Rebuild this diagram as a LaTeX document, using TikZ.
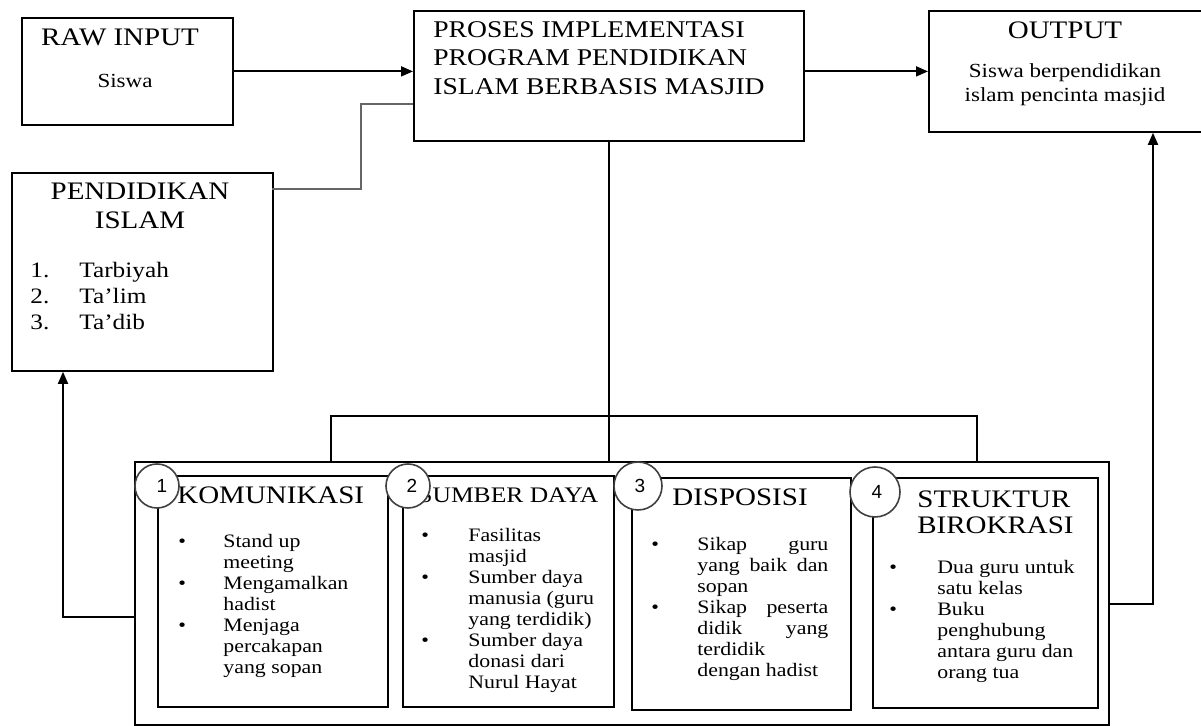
\documentclass[tikz,border=0pt]{standalone}
\usepackage{fontspec}
\setmainfont{Liberation Serif}[FakeStretch=1.15]
\newfontfamily\numfont{Liberation Sans}
\usetikzlibrary{arrows.meta}
\tikzset{
  boxframe/.style 2 args={draw, line width=0.9pt, anchor=north west, inner sep=0pt, minimum width=#1, minimum height=#2},
  heading/.style={inner sep=0pt, font=\fontsize{12.6}{14.5}\selectfont},
  plain/.style={inner sep=0pt, font=\fontsize{10}{12}\selectfont},
  itemtext/.style={inner sep=0pt, anchor=north west, font=\fontsize{9.5}{10.5}\selectfont},
  numcircle/.style={circle, draw=black!75, line width=0.8pt, fill=white, inner sep=0pt, minimum size=#1, font=\numfont\fontsize{9.5}{10}\selectfont},
  link/.style={line width=0.9pt},
  arrow/.style={link, -{Triangle[length=6pt,width=5pt]}},
}
\begin{document}
\begin{tikzpicture}[x=0.5pt,y=-0.5pt]
\useasboundingbox (0,0) rectangle (1201,726);
% top row
\node[boxframe={105.5pt}{53.5pt}] (raw) at (21,17) {};
\node[heading] (rawtitle) at (120,37) {RAW INPUT};
\node[plain] (rawtext) at (125,81) {Siswa};
\node[boxframe={195pt}{65pt}] (proc) at (413,10) {};
\node[heading, anchor=west, align=left, font=\fontsize{12}{14.25}\selectfont] (proctext) at (433,58) {PROSES IMPLEMENTASI\\PROGRAM PENDIDIKAN\\ISLAM BERBASIS MASJID};
\node[boxframe={141pt}{60.5pt}] (out) at (928,10) {};
\node[heading] (outtitle) at (1065,30) {OUTPUT};
\node[plain, align=center] (outtext) at (1065,85) {Siswa berpendidikan\\islam pencinta masjid};
% pendidikan islam
\node[boxframe={130.5pt}{99pt}] (pend) at (11,172) {};
\node[heading, align=center] (pendtitle) at (140,206) {PENDIDIKAN\\ISLAM};
\node[itemtext, font=\fontsize{11}{13}\selectfont] (pendlist) at (30,259)
  {\begin{tabular}{@{}p{24.5pt}@{}l@{}}1. & Tarbiyah\\ 2. & Ta'lim\\ 3. & Ta'dib\end{tabular}};
% bottom frame and the four boxes
\node[boxframe={487pt}{131.5pt}] (frame) at (134,461) {};
\node[boxframe={115pt}{115.5pt}] (kom) at (157,475) {};
\node[boxframe={105.5pt}{115.5pt}] (sdm) at (402,475) {};
\node[boxframe={109.5pt}{116pt}] (dis) at (631,477) {};
\node[boxframe={112.5pt}{115pt}] (bir) at (872,477) {};
\node[heading, anchor=west] (komtitle) at (177,495) {KOMUNIKASI};
\node[heading, anchor=west, font=\fontsize{11.1}{13}\selectfont] (sdmtitle) at (418,495) {SUMBER DAYA};
\node[heading, anchor=west] (distitle) at (672,497) {DISPOSISI};
\node[heading, anchor=west, align=left, font=\fontsize{12.6}{13}\selectfont] (birtitle) at (917,512) {STRUKTUR\\BIROKRASI};
\node[itemtext] (komlist) at (178,532)
  {\begin{tabular}{@{}p{22.5pt}@{}l@{}}\textbullet & Stand up\\ & meeting\\ \textbullet & Mengamalkan\\ & hadist\\ \textbullet & Menjaga\\ & percakapan\\ & yang sopan\end{tabular}};
\node[itemtext] (sdmlist) at (421,526)
  {\begin{tabular}{@{}p{23.5pt}@{}l@{}}\textbullet & Fasilitas\\ & masjid\\ \textbullet & Sumber daya\\ & manusia (guru\\ & yang terdidik)\\ \textbullet & Sumber daya\\ & donasi dari\\ & Nurul Hayat\end{tabular}};
\node[itemtext] (dislist) at (651,535)
  {\begin{tabular}{@{}p{23pt}@{}l@{}}\textbullet & \makebox[65.5pt][s]{Sikap guru}\\ & \makebox[65.5pt][s]{yang baik dan}\\ & sopan\\ \textbullet & \makebox[65.5pt][s]{Sikap peserta}\\ & \makebox[65.5pt][s]{didik yang}\\ & terdidik\\ & dengan hadist\end{tabular}};
\node[itemtext] (birlist) at (889,558)
  {\begin{tabular}{@{}p{24pt}@{}l@{}}\textbullet & Dua guru untuk\\ & satu kelas\\ \textbullet & Buku\\ & penghubung\\ & antara guru dan\\ & orang tua\end{tabular}};
% number circles
\node[numcircle=22pt, text depth=0pt, inner xsep=0pt] (c1) at (157,486) {\hspace*{5pt}1};
\node[numcircle=22pt] (c2) at (408,486) {\hspace*{4pt}2};
\node[numcircle=24pt] (c3) at (638,486) {\hspace*{2pt}3};
\node[numcircle=25pt] (c4) at (875,492) {\hspace*{2pt}4};
% connectors
\draw[arrow] (raw.east) -- (raw.east -| proc.west);
\draw[arrow] (proc.east |- raw.east) -- (out.west |- raw.east);
\coordinate (pendjoin) at (272,189);
\coordinate (procjoin) at (413,104);
\draw[link, draw=black!60] (pendjoin) -| (361,104) -- (procjoin);
\draw[link] (proc.south) -- (proc.south |- frame.north);
\coordinate (brl) at (331,416);
\coordinate (brr) at (977,416);
\draw[link] (brl |- frame.north) -- (brl) -- (brr) -- (brr |- frame.north);
\coordinate (fbl) at (63,617);
\draw[arrow] (fbl -| frame.west) -- (fbl) -- (fbl |- pend.south);
\coordinate (fbr) at (1153,604);
\draw[arrow] (fbr -| frame.east) -- (fbr) -- (fbr |- out.south);
\end{tikzpicture}
\end{document}
